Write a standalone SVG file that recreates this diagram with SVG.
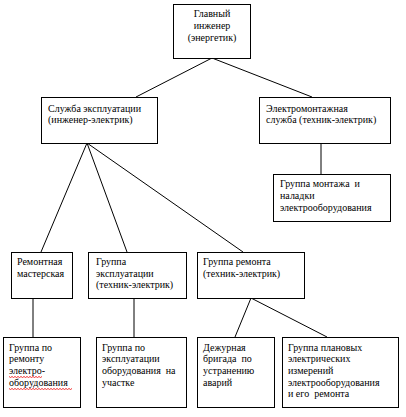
<svg xmlns="http://www.w3.org/2000/svg" width="406" height="417" viewBox="0 0 406 417" font-family="'Liberation Serif', 'DejaVu Serif', serif" font-size="10">
<style>
rect{fill:#fff;stroke:#000;stroke-width:1}
text{font-family:'Liberation Serif','DejaVu Serif',serif;font-size:10px;fill:#000;white-space:pre}
.c{stroke:#000;stroke-width:1;fill:none}
.sq{stroke:#e00;stroke-width:0.8;fill:none}
</style>
<rect x="0" y="0" width="406" height="417" style="stroke:none"/>
<g id="connectors">
<line class="c" x1="212" y1="58" x2="136" y2="97"/>
<line class="c" x1="212" y1="58" x2="312" y2="97"/>
<line class="c" x1="87" y1="143" x2="41" y2="252"/>
<line class="c" x1="87" y1="143" x2="127" y2="252"/>
<line class="c" x1="87" y1="143" x2="243" y2="252"/>
<line class="c" x1="321" y1="143" x2="321" y2="174"/>
<line class="c" x1="33" y1="298" x2="33" y2="337"/>
<line class="c" x1="134" y1="298" x2="134" y2="337"/>
<line class="c" x1="251" y1="298" x2="235" y2="337"/>
<line class="c" x1="251" y1="298" x2="327" y2="337"/>
</g>
<g id="n_main">
<rect x="173.5" y="4.5" width="77" height="54"/>
<text x="212" y="17" text-anchor="middle">Главный</text>
<text x="212" y="29" text-anchor="middle">инженер</text>
<text x="212" y="41" text-anchor="middle">(энергетик)</text>
</g>
<g id="n_service">
<rect x="41.5" y="97.5" width="116" height="46"/>
<text x="48" y="112">Служба эксплуатации</text>
<text x="48" y="123">(инженер-электрик)</text>
</g>
<g id="n_electro">
<rect x="259.5" y="97.5" width="131" height="46"/>
<text x="266" y="112">Электромонтажная</text>
<text x="266" y="123">служба (техник-электрик)</text>
</g>
<g id="n_montage">
<rect x="273.5" y="174.5" width="117" height="47"/>
<text x="280" y="187">Группа монтажа  и</text>
<text x="280" y="199">наладки</text>
<text x="280" y="211">электрооборудования</text>
</g>
<g id="n_workshop">
<rect x="11.5" y="252.5" width="61" height="46"/>
<text x="17" y="265">Ремонтная</text>
<text x="17" y="277">мастерская</text>
</g>
<g id="n_expl">
<rect x="88.5" y="252.5" width="98" height="46"/>
<text x="96" y="265">Группа</text>
<text x="96" y="277">эксплуатации</text>
<text x="96" y="288">(техник-электрик)</text>
</g>
<g id="n_repair">
<rect x="197.5" y="252.5" width="107" height="46"/>
<text x="203" y="265">Группа ремонта</text>
<text x="203" y="277">(техник-электрик)</text>
</g>
<g id="n_b1">
<rect x="3.5" y="337.5" width="77" height="70"/>
<text x="9" y="351">Группа по</text>
<text x="9" y="362">ремонту</text>
<text x="9" y="374">электро-</text>
<text x="9" y="386">оборудования</text>
<path class="sq" d="M9 376.5 l1.5 1 l1.5 -1 l1.5 1 l1.5 -1 l1.5 1 l1.5 -1 l1.5 1 l1.5 -1 l1.5 1 l1.5 -1 l1.5 1 l1.5 -1 l1.5 1 l1.5 -1 l1.5 1 l1.5 -1 l1.5 1 l1.5 -1 l1.5 1 l1.5 -1 l1.5 1 l1.5 -1"/>
<path class="sq" d="M9 388.5 l1.5 1 l1.5 -1 l1.5 1 l1.5 -1 l1.5 1 l1.5 -1 l1.5 1 l1.5 -1 l1.5 1 l1.5 -1 l1.5 1 l1.5 -1 l1.5 1 l1.5 -1 l1.5 1 l1.5 -1 l1.5 1 l1.5 -1 l1.5 1 l1.5 -1 l1.5 1 l1.5 -1 l1.5 1 l1.5 -1 l1.5 1 l1.5 -1 l1.5 1 l1.5 -1 l1.5 1 l1.5 -1 l1.5 1 l1.5 -1 l1.5 1 l1.5 -1 l1.5 1 l1.5 -1 l1.5 1 l1.5 -1 l1.5 1 l1.5 -1 l1.5 1 l1.5 -1"/>
</g>
<g id="n_b2">
<rect x="96.5" y="337.5" width="90" height="70"/>
<text x="102" y="351">Группа по</text>
<text x="102" y="362">эксплуатации</text>
<text x="102" y="374">оборудования  на</text>
<text x="102" y="386">участке</text>
</g>
<g id="n_b3">
<rect x="197.5" y="337.5" width="77" height="70"/>
<text x="203" y="351">Дежурная</text>
<text x="203" y="362">бригада  по</text>
<text x="203" y="374">устранению</text>
<text x="203" y="386">аварий</text>
</g>
<g id="n_b4">
<rect x="282.5" y="337.5" width="116" height="70"/>
<text x="288" y="351">Группа плановых</text>
<text x="288" y="362">электрических</text>
<text x="288" y="374">измерений</text>
<text x="288" y="386">электрооборудования</text>
<text x="288" y="397">и его  ремонта</text>
</g>
</svg>
